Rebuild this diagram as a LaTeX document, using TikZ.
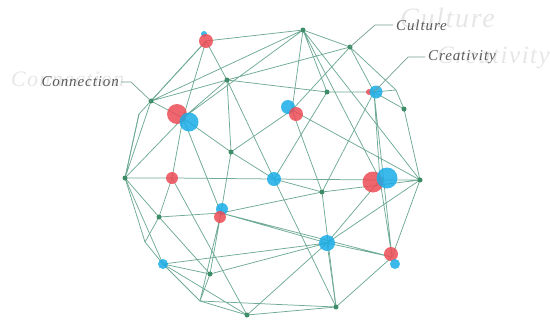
\documentclass[tikz,border=0pt]{standalone}
\usepackage{fontspec}
\usepackage{tikz}
\usetikzlibrary{positioning}
\newfontfamily\lblfont[LetterSpace=6]{Liberation Serif}
\definecolor{meshgreen}{HTML}{6FAA94}
\definecolor{dotgreen}{HTML}{3E8D68}
\definecolor{spotred}{HTML}{EC4B55}
\definecolor{spotblue}{HTML}{1AADE8}
\definecolor{lblgray}{HTML}{5A5A5A}
\definecolor{ghostgray}{HTML}{E6E6E6}

\begin{document}
\begin{tikzpicture}[x=1pt, y=-1pt,
    mesh/.style={draw=meshgreen, line width=0.75pt},
    leader/.style={draw=meshgreen!75!gray, line width=0.7pt},
    dot/.style={circle, fill=dotgreen, inner sep=0pt, minimum size=5pt},
    redspot/.style={circle, fill=spotred, fill opacity=0.85, inner sep=0pt, minimum size=#1},
    bluespot/.style={circle, fill=spotblue, fill opacity=0.85, inner sep=0pt, minimum size=#1},
    lbl/.style={font=\lblfont\itshape\fontsize{15}{18}\selectfont, text=lblgray, inner sep=0pt},
    ghost/.style={font=\lblfont\itshape\fontsize{#1}{#1}\selectfont, text=ghostgray, inner sep=0pt}]
    \useasboundingbox (0,0) rectangle (550,322);

    % faded words behind
    \node [ghost=22, anchor=base west] (gconn) at (11,86) {Connection};
    \node [ghost=28, anchor=base west] (gcult) at (400,27) {Culture};
    \node [ghost=25, anchor=base west] (gcrea) at (437,63) {Creativity};

    % mesh vertices
    \coordinate (t1) at (303,30);
    \coordinate (t2) at (350,47);
    \coordinate (c1) at (227,80);
    \coordinate (l1) at (151,101);
    \coordinate (c2) at (327,92);
    \coordinate (r1) at (404,109);
    \coordinate (c3) at (231,152);
    \coordinate (l2) at (125,178);
    \coordinate (c4) at (322,192);
    \coordinate (r2) at (420,180);
    \coordinate (l3) at (159,217);
    \coordinate (b1) at (210,274);
    \coordinate (b2) at (247,315);
    \coordinate (b3) at (336,307);
    \coordinate (k1) at (139,114);
    \coordinate (k2) at (145,242);
    \coordinate (k3) at (200,301);
    \coordinate (k4) at (396,90);
    % spots
    \coordinate (pA) at (206,41);
    \coordinate (pB) at (183,118);
    \coordinate (pC) at (292,110);
    \coordinate (pD) at (374,92);
    \coordinate (pE) at (172,178);
    \coordinate (pF) at (274,179);
    \coordinate (pG) at (380,180);
    \coordinate (pH) at (221,213);
    \coordinate (pI) at (163,264);
    \coordinate (pJ) at (327,243);
    \coordinate (pK) at (392,257);

    % outline
    \draw [mesh] (t1) -- (t2) -- (k4) -- (r1) -- (r2) -- (pK) -- (b3) -- (b2) -- (k3)
        -- (pI) -- (k2) -- (l2) -- (k1) -- (pA) -- (t1);
    % upper part
    \draw [mesh] (pA) -- (l1) (pA) -- (c1) (pA) -- (pB) (l1) -- (l2) (l1) -- (pB)
        (l1) -- (c1) (c1) -- (t2) (c1) -- (c2) (c1) -- (c3) (c1) -- (pB) (c1) -- (pF)
        (t1) -- (pB) (t1) -- (pC) (t1) -- (c2) (t1) -- (pG) (t1) -- (r2)
        (t2) -- (pC) (t2) -- (pD) (c2) -- (pD) (c2) -- (pF) (pD) -- (r1) (pD) -- (k4)
        (k1) -- (l2) (l1) -- (t1);
    % middle part
    \draw [mesh] (pD) -- (pG) (pD) -- (pK) (pD) -- (c4) (pC) -- (c3) (pC) -- (c4)
        (pC) -- (r2) (c3) -- (pB) (c3) -- (pF) (c3) -- (pH) (l2) -- (pB) (l2) -- (pE)
        (l2) -- (l3) (l2) -- (pI) (pB) -- (pE) (pB) -- (pH) (pE) -- (pF) (pE) -- (l3)
        (pE) -- (b2) (pF) -- (pG) (pF) -- (c4) (pF) -- (b3) (c4) -- (r2) (c4) -- (pH)
        (c4) -- (b3) (pG) -- (r2) (pG) -- (pJ) (pG) -- (pK) (r2) -- (pJ);
    % lower part
    \draw [mesh] (l3) -- (pH) (l3) -- (b1) (l3) -- (k2) (pH) -- (k3) (pH) -- (pJ)
        (pH) -- (b1) (pI) -- (b1) (pI) -- (pJ) (pI) -- (b2) (b1) -- (pJ) (b1) -- (k3)
        (b2) -- (pJ) (pJ) -- (pK) (pJ) -- (b3) (pH) -- (pK) (k3) -- (b3);

    % small green dots
    \foreach \v in {t1,t2,c1,l1,c2,r1,c3,l2,c4,r2,l3,b1,b2,b3}
        \node [dot] (d\v) at (\v) {};

    % coloured spots
    \node [bluespot=6pt]  (pAb) at (204,34)  {};
    \node [redspot=14pt]  (pAr) at (206,41)  {};
    \node [redspot=20pt]  (pBr) at (177,114) {};
    \node [bluespot=19pt] (pBb) at (189,122) {};
    \node [bluespot=14pt] (pCb) at (288,107) {};
    \node [redspot=14pt]  (pCr) at (296,114) {};
    \node [redspot=6pt]   (pDr) at (369,92)  {};
    \node [bluespot=13pt] (pDb) at (376,92)  {};
    \node [redspot=12pt]  (pEr) at (172,178) {};
    \node [bluespot=14pt] (pFb) at (274,179) {};
    \node [redspot=21pt]  (pGr) at (373,182) {};
    \node [bluespot=21pt] (pGb) at (387,178) {};
    \node [bluespot=12pt] (pHb) at (222,209) {};
    \node [redspot=12pt]  (pHr) at (220,217) {};
    \node [bluespot=10pt] (pIb) at (163,264) {};
    \node [bluespot=16pt] (pJb) at (327,243) {};
    \node [redspot=14pt]  (pKr) at (391,254) {};
    \node [bluespot=10pt] (pKb) at (395,264) {};

    % labels
    \coordinate (connA) at (121,82);
    \coordinate (connB) at (131,82);
    \coordinate (cultA) at (393,25);
    \coordinate (cultB) at (375,25);
    \coordinate (creaA) at (425,57);
    \coordinate (creaB) at (408,57);
    \draw [leader] (connA) -- (connB) -- (l1);
    \draw [leader] (cultA) -- (cultB) -- (t2);
    \draw [leader] (creaA) -- (creaB) -- (pD);
    \node [lbl, left=2pt of connA] (conn) {Connection};
    \node [lbl, right=3pt of cultA] (cult) {Culture};
    \node [lbl, right=3pt of creaA] (crea) {Creativity};
\end{tikzpicture}
\end{document}
